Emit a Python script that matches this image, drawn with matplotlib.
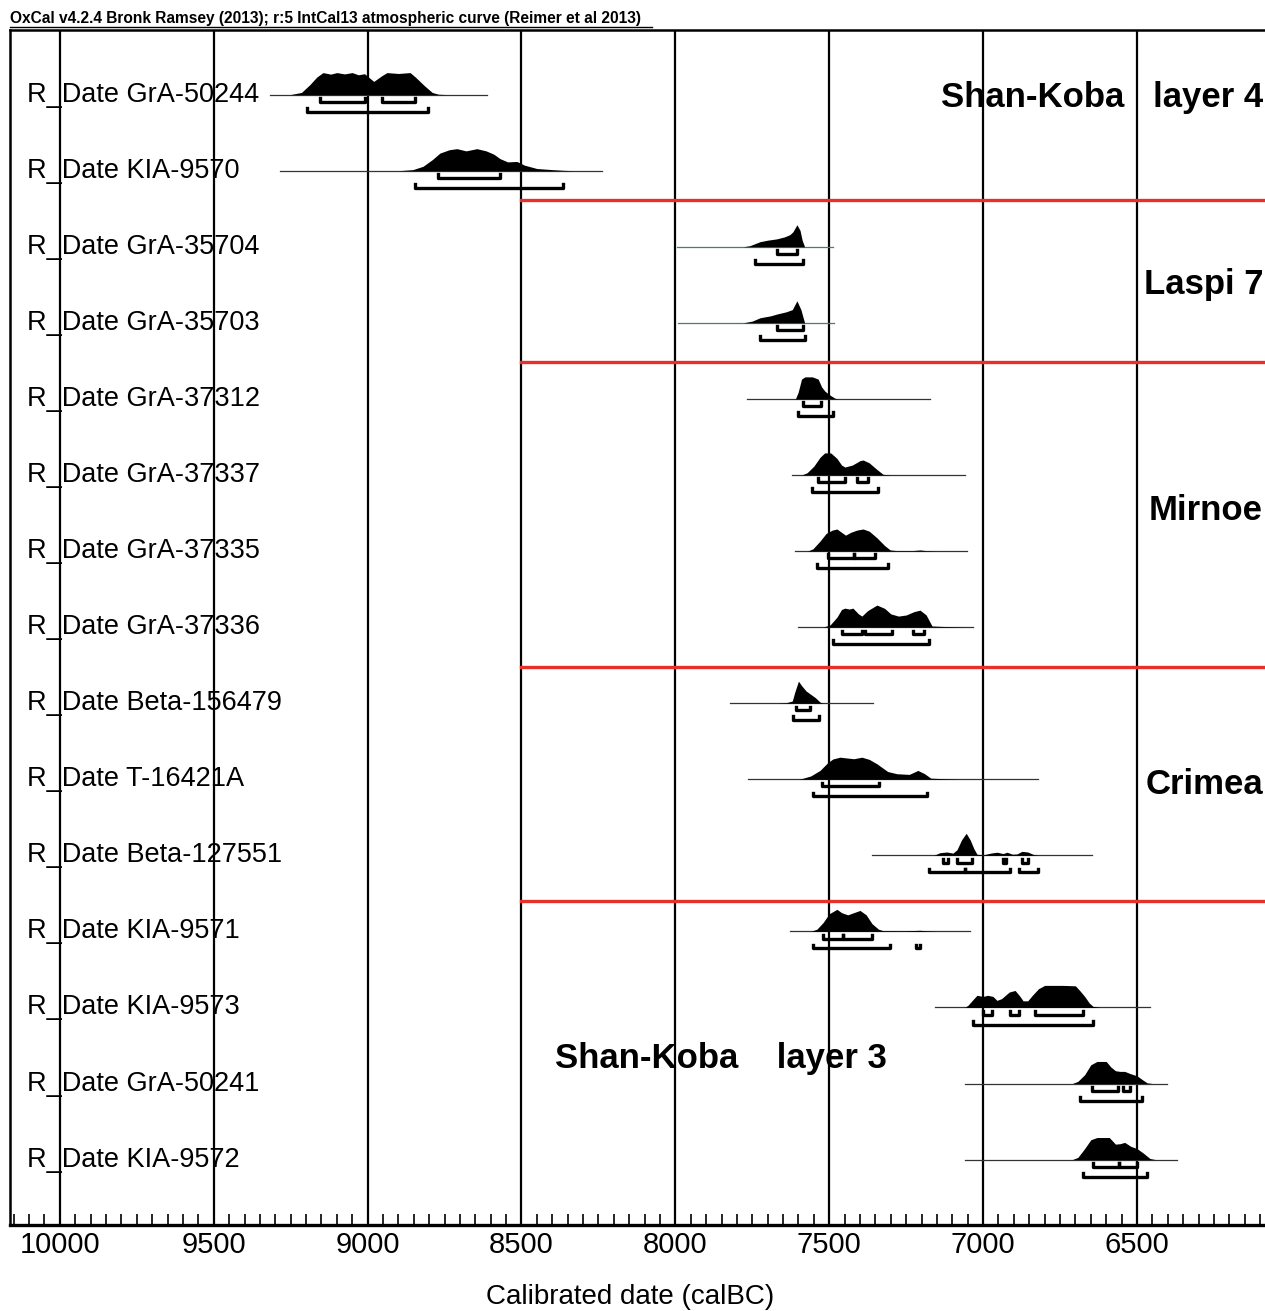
import matplotlib
matplotlib.use('Agg')
import matplotlib.pyplot as plt
from matplotlib.lines import Line2D
import matplotlib.transforms as mtransforms
import numpy as np

plt.rcParams['font.family'] = ['Liberation Sans', 'DejaVu Sans']

labels = ['R_Date GrA-50244', 'R_Date KIA-9570', 'R_Date GrA-35704', 'R_Date GrA-35703',
          'R_Date GrA-37312', 'R_Date GrA-37337', 'R_Date GrA-37335', 'R_Date GrA-37336',
          'R_Date Beta-156479', 'R_Date T-16421A', 'R_Date Beta-127551', 'R_Date KIA-9571',
          'R_Date KIA-9573', 'R_Date GrA-50241', 'R_Date KIA-9572']

# extent of the thin line under each distribution (calBC)
line_from = [9318, 9285, 7995, 7990, 7767, 7621, 7611, 7601, 7822, 7764, 7361, 7627, 7156, 7059, 7059]
line_to = [8612, 8239, 7488, 7485, 7172, 7059, 7052, 7033, 7358, 6822, 6646, 7042, 6458, 6402, 6370]

# probability distributions: (year, relative height)
profiles = [
    [(9252, 0), (9215, 0.1), (9188, 0.45), (9165, 0.8), (9145, 1.0), (9120, 0.93), (9100, 1.0), (9075, 0.94),
     (9050, 1.0), (9030, 0.9), (9010, 0.95), (8993, 0.75), (8980, 0.6), (8955, 0.85), (8937, 1.0),
     (8900, 0.96), (8862, 1.0), (8845, 0.8), (8815, 0.4), (8790, 0.1), (8770, 0.02), (8740, 0)],
    [(8900, 0), (8853, 0.05), (8820, 0.2), (8790, 0.5), (8765, 0.8), (8735, 0.95), (8710, 1.0), (8680, 0.9),
     (8645, 1.0), (8615, 0.9), (8590, 0.75), (8570, 0.55), (8545, 0.4), (8515, 0.42), (8490, 0.25),
     (8450, 0.1), (8400, 0.05), (8365, 0.02), (8330, 0)],
    [(7780, 0), (7758, 0.05), (7725, 0.23), (7700, 0.3), (7670, 0.36), (7645, 0.45), (7628, 0.55),
     (7618, 0.68), (7605, 1.0), (7595, 0.75), (7588, 0.3), (7580, 0)],
    [(7780, 0), (7750, 0.08), (7725, 0.23), (7690, 0.32), (7670, 0.4), (7640, 0.5), (7620, 0.6),
     (7605, 1.0), (7592, 0.6), (7580, 0)],
    [(7610, 0), (7601, 0.3), (7590, 0.9), (7579, 1.0), (7555, 1.0), (7536, 0.9), (7525, 0.55),
     (7514, 0.35), (7495, 0.15), (7481, 0.03), (7470, 0)],
    [(7590, 0), (7572, 0.1), (7550, 0.4), (7530, 0.8), (7515, 1.0), (7495, 1.0), (7475, 0.75),
     (7460, 0.45), (7449, 0.36), (7425, 0.45), (7400, 0.65), (7390, 0.68), (7370, 0.55),
     (7345, 0.25), (7325, 0.03), (7300, 0)],
    [(7570, 0), (7553, 0.1), (7530, 0.45), (7510, 0.8), (7490, 0.95), (7475, 1.0), (7460, 0.85),
     (7447, 0.72), (7430, 0.85), (7410, 0.95), (7390, 1.0), (7370, 0.9), (7345, 0.6), (7320, 0.25),
     (7302, 0.05), (7280, 0.02), (7230, 0.02), (7205, 0.05), (7185, 0.02), (7150, 0)],
    [(7520, 0), (7497, 0.1), (7475, 0.45), (7460, 0.8), (7449, 0.86), (7435, 0.82), (7423, 0.86),
     (7405, 0.6), (7394, 0.5), (7375, 0.75), (7345, 1.0), (7320, 0.85), (7300, 0.6), (7275, 0.5),
     (7250, 0.55), (7225, 0.7), (7205, 0.77), (7185, 0.55), (7166, 0.05), (7130, 0.03), (7060, 0)],
    [(7667, 0), (7640, 0.02), (7620, 0.1), (7612, 0.5), (7600, 1.0), (7590, 0.8), (7575, 0.55),
     (7560, 0.4), (7545, 0.25), (7530, 0.05), (7520, 0)],
    [(7600, 0), (7589, 0.03), (7560, 0.15), (7530, 0.4), (7505, 0.75), (7488, 0.92), (7465, 1.0),
     (7440, 0.96), (7420, 0.93), (7394, 1.0), (7370, 0.9), (7345, 0.7), (7310, 0.35), (7280, 0.25),
     (7240, 0.22), (7212, 0.4), (7190, 0.25), (7170, 0.05), (7120, 0.02), (7075, 0)],
    [(7160, 0), (7140, 0.12), (7118, 0.15), (7098, 0.1), (7085, 0.25), (7070, 0.7), (7055, 1.0),
     (7042, 0.7), (7030, 0.3), (7020, 0.05), (7000, 0.02), (6975, 0.1), (6955, 0.14), (6935, 0.08),
     (6922, 0.14), (6905, 0.05), (6890, 0.06), (6874, 0.18), (6855, 0.15), (6835, 0.03), (6820, 0)],
    [(7560, 0), (7540, 0.1), (7520, 0.4), (7500, 0.8), (7475, 1.0), (7460, 0.85), (7440, 0.75),
     (7420, 0.85), (7400, 0.95), (7380, 0.75), (7361, 0.35), (7340, 0.1), (7325, 0.03), (7260, 0.02),
     (7205, 0.05), (7180, 0.02), (7150, 0)],
    [(7060, 0), (7049, 0.1), (7030, 0.4), (7020, 0.55), (7000, 0.5), (6985, 0.55), (6968, 0.5),
     (6955, 0.32), (6940, 0.4), (6915, 0.7), (6896, 0.77), (6880, 0.5), (6870, 0.3), (6855, 0.3),
     (6840, 0.55), (6820, 0.85), (6800, 1.0), (6740, 1.0), (6700, 0.98), (6685, 0.75), (6670, 0.5),
     (6655, 0.2), (6643, 0.05), (6620, 0)],
    [(6710, 0), (6692, 0.1), (6670, 0.4), (6650, 0.85), (6630, 1.0), (6600, 1.0), (6585, 0.75),
     (6570, 0.58), (6555, 0.55), (6540, 0.55), (6522, 0.45), (6500, 0.35), (6480, 0.15),
     (6467, 0.03), (6450, 0)],
    [(6710, 0), (6692, 0.1), (6670, 0.5), (6650, 0.9), (6630, 1.0), (6590, 1.0), (6570, 0.7),
     (6555, 0.72), (6540, 0.78), (6520, 0.6), (6500, 0.5), (6480, 0.3), (6458, 0.05), (6440, 0)],
]

# 68.2% and 95.4% ranges
sigma1 = [
    [(9155, 9009), (8953, 8846)], [(8771, 8570)], [(7670, 7605)], [(7670, 7585)], [(7585, 7527)],
    [(7536, 7449), (7410, 7374)], [(7504, 7420), (7420, 7351)], [(7459, 7394), (7384, 7296), (7228, 7192)],
    [(7608, 7562)], [(7523, 7338)], [(7130, 7114), (7085, 7036), (6935, 6925), (6874, 6854)],
    [(7520, 7455), (7455, 7361)], [(7000, 6971), (6913, 6883), (6831, 6675)],
    [(6646, 6562), (6545, 6522)], [(6643, 6560), (6560, 6500)],
]
sigma2 = [
    [(9197, 8804)], [(8846, 8365)], [(7741, 7585)], [(7725, 7580)], [(7601, 7488)], [(7556, 7341)],
    [(7540, 7309)], [(7488, 7176)], [(7618, 7533)], [(7553, 7182)],
    [(7176, 7060), (7060, 6912), (6883, 6822)], [(7553, 7302), (7218, 7206)], [(7033, 6643)],
    [(6685, 6484)], [(6675, 6467)],
]

group_names = ['Shan-Koba   layer 4', 'Laspi 7', 'Mirnoe', 'Crimea', 'Shan-Koba    layer 3']
group_rows = [0.04, 2.5, 5.47, 9.07, 12.67]
separator_rows = [1.38, 3.51, 7.53, 10.6]

fig = plt.figure(figsize=(12.65, 13.11), dpi=100)
ax = fig.add_axes([10 / 1265, 1 - 1225 / 1311, 1255 / 1265, (1225 - 30) / 1311])
ax.set_xlim(10162, 6084)
ax.set_ylim(14.86, -0.85)

peak = 0.29
off1, off2, tick = 0.095, 0.225, 0.05

for x in range(6500, 10001, 500):
    ax.axvline(x, color='black', lw=1.6, zorder=1)

row_text = mtransforms.blended_transform_factory(ax.transAxes, ax.transData)
for i in range(len(labels)):
    col = '#4f7f55' if i in (2, 3) else '#333333'
    ax.plot([line_from[i], line_to[i]], [i, i], color=col, lw=0.9, zorder=2)
    xs = np.array([p[0] for p in profiles[i]])
    hs = np.array([p[1] for p in profiles[i]])
    ax.fill_between(xs, i, i - hs * peak, color='black', lw=0, zorder=3)
    for a, b in sigma1[i]:
        y = i + off1
        ax.plot([a, a, b, b], [y - tick, y, y, y - tick], color='black', lw=2.4, zorder=3)
    for a, b in sigma2[i]:
        y = i + off2
        ax.plot([a, a, b, b], [y - tick, y, y, y - tick], color='black', lw=2.4, zorder=3)
    ax.text(0.0135, i, labels[i], transform=row_text, fontsize=19.5, va='center', ha='left', zorder=4)

for r in separator_rows:
    ax.plot([8500, 6084], [r, r], color='#e8302a', lw=2.4, zorder=2)

for name, r in zip(group_names, group_rows):
    if name.endswith('3'):
        ax.text(8391, r, name, fontsize=25, fontweight='bold', va='center', ha='left', zorder=4)
    else:
        ax.text(0.9985, r, name, transform=row_text,
                fontsize=25, fontweight='bold', va='center', ha='right', zorder=4)

ax.set_xticks(range(6500, 10001, 500))
ax.set_xticklabels([str(v) for v in range(6500, 10001, 500)], fontsize=21)
ax.set_xticks(range(6100, 10151, 50), minor=True)
ax.tick_params(axis='x', which='major', direction='in', length=0, pad=4)
ax.tick_params(axis='x', which='minor', direction='in', length=8, width=1.2)
ax.set_yticks([])
for s in ['left', 'top']:
    ax.spines[s].set_linewidth(1.8)
ax.spines['bottom'].set_linewidth(2.4)
ax.spines['right'].set_visible(False)

fig.text(630 / 1265, 1 - 1297 / 1311, 'Calibrated date (calBC)', fontsize=20, ha='center', va='center')
fig.text(10 / 1265, 1 - 19 / 1311,
         'OxCal v4.2.4 Bronk Ramsey (2013); r:5 IntCal13 atmospheric curve (Reimer et al 2013)',
         fontsize=11.2, fontweight='bold', ha='left', va='center')
fig.add_artist(Line2D([10 / 1265, 652 / 1265], [1 - 26.5 / 1311, 1 - 26.5 / 1311], color='black', lw=1.0))

fig.savefig('out.png', dpi=100, facecolor='white')
